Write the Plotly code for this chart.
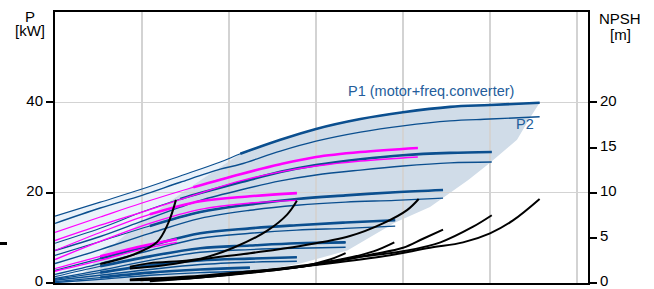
import plotly.graph_objects as go

# ---------------- data (x = flow, arbitrary units; P in kW; NPSH in m) ----------------
# Pump A (blue)
A_x  = [0, 5.2, 10, 14.4, 19.0, 21.3, 25.9, 30.0, 35.1, 40.0, 45.4, 50.0, 55.7]
A_p1 = [14.8, 17.9, 20.8, 23.7, 26.8, 28.6, 31.7, 34.1, 36.3, 37.8, 39.0, 39.4, 39.9]
A_p2 = [13.2, 16.6, 19.4, 22.3, 25.2, 26.3, 29.2, 31.4, 33.4, 34.8, 35.9, 36.3, 36.8]
A_thick = 21.3
# Pump B (blue)
B_x  = [0, 5.2, 10, 14.4, 16.7, 21.3, 25.9, 30.0, 35.1, 40.0, 45.4, 50.2]
B_p1 = [8.8, 12.1, 15.7, 18.6, 19.9, 22.3, 24.6, 26.1, 27.4, 28.3, 28.8, 29.0]
B_p2 = [7.2, 10.3, 13.7, 16.8, 18.3, 20.6, 22.6, 23.9, 25.0, 25.9, 26.6, 26.8]
B_thick = 14.4
# Pump C (magenta)
C_x  = [0, 5.2, 10, 15.9, 21.3, 25.9, 30.0, 35.1, 41.7]
C_p1 = [11.2, 14.6, 17.7, 21.2, 24.1, 26.3, 27.9, 29.0, 29.9]
C_p2 = [9.4, 12.8, 15.7, 19.4, 22.6, 24.6, 25.9, 27.0, 27.9]
C_thick = 15.9
# Pump D (blue)
D_x  = [0, 5.2, 10.9, 16.7, 22.4, 27.8, 33.4, 39.1, 44.6]
D_p1 = [6.1, 9.2, 12.6, 15.7, 17.4, 18.6, 19.4, 20.1, 20.6]
D_p2 = [4.3, 7.4, 11.0, 14.3, 16.1, 17.2, 17.9, 18.3, 18.8]
D_thick = 10.9
# Pump E (magenta)
E_x  = [0, 5.2, 10.9, 16.7, 22.4, 27.8]
E_p1 = [7.2, 11.2, 15.2, 18.1, 19.2, 19.9]
E_p2 = [5.2, 9.2, 13.2, 16.3, 17.7, 18.3]
E_thick = 10.9
# Pump F (blue)
F_x  = [0, 5.2, 10.9, 16.7, 22.4, 27.8, 33.4, 39.1]
F_p1 = [2.8, 5.4, 8.3, 11.0, 12.1, 12.8, 13.4, 13.9]
F_p2 = [1.9, 4.3, 7.2, 9.9, 11.0, 11.7, 12.1, 12.6]
F_thick = 5.2
# Pump G (blue)
G_x  = [0, 5.2, 10.9, 16.7, 22.4, 27.8, 33.4]
G_p1 = [1.4, 3.7, 5.9, 7.7, 8.3, 8.8, 9.0]
G_p2 = [1.0, 2.8, 5.0, 6.8, 7.4, 7.7, 7.9]
G_thick = 5.2
# Pump H (magenta)
H_x  = [0, 5.2, 9.8, 14.0]
H_p1 = [3.2, 5.9, 8.1, 9.7]
H_p2 = [2.6, 5.0, 7.4, 9.0]
H_thick = 5.2
# Pump I (blue)
I_x  = [0, 5.2, 10.9, 16.7, 22.4, 27.8]
I_p1 = [0.8, 2.3, 3.9, 5.0, 5.4, 5.7]
I_p2 = [0.6, 1.7, 3.0, 4.1, 4.6, 4.8]
I_thick = 5.2
# Pump J (blue)
J_x  = [0, 5.2, 10.9, 16.7, 22.4]
J_p1 = [0.3, 1.2, 2.3, 3.0, 3.4]
J_p2 = [0.1, 0.8, 1.7, 2.3, 2.6]
J_thick = 5.2

# NPSH curves (black, right axis)
N1_x = [5.2, 8.9, 11.7, 13.0, 13.9];            N1_v = [2.1, 3.1, 4.5, 6.6, 9.2]
N2_x = [8.6, 10.9, 16.7, 20.5, 24.4, 26.7, 27.8]; N2_v = [1.8, 2.2, 2.7, 3.9, 5.8, 7.6, 9.1]
N3_x = [8.6, 12.1, 16.7, 22.4, 28.2, 33.9, 37.7, 40.5, 41.8]; N3_v = [1.6, 1.9, 2.6, 3.3, 4.1, 5.2, 6.6, 8.1, 9.3]
N4_x = [8.6, 16.7, 22.4, 28.2, 31.6, 33.4];      N4_v = [0.4, 0.8, 1.3, 1.8, 2.6, 3.3]
N5_x = [8.6, 16.7, 25.9, 32.8, 36.6, 39.0];      N5_v = [0.3, 0.7, 1.6, 2.6, 3.5, 4.5]
N6_x = [9.8, 16.7, 25.9, 32.8, 36.6, 40.0, 42.3, 44.6]; N6_v = [0.3, 0.7, 1.5, 2.5, 3.2, 3.9, 4.9, 5.9]
N7_x = [10.9, 16.7, 28.2, 35.1, 40.5, 44.3, 48.0, 50.2]; N7_v = [0.3, 0.6, 1.8, 2.9, 3.6, 4.5, 6.2, 7.5]
N8_x = [10.9, 16.7, 28.2, 37.4, 43.1, 46.9, 50.0, 52.6, 55.7]; N8_v = [0.2, 0.6, 1.8, 2.9, 3.9, 4.5, 5.5, 6.9, 9.3]

# Operating-range area boundaries
DARK_RIGHT_X = [54.6, 53.1, 50.0, 47.5, 43.1, 39.1, 33.6, 28.2, 22.4, 16.7, 10.9]
DARK_RIGHT_P = [36.6, 31.7, 26.6, 22.8, 16.8, 13.4, 7.2, 4.3, 2.3, 1.0, 0.0]
DARK_LEFT_X = [2.3, 5.2, 9.8, 15.5, 21.3]
DARK_LEFT_P = [0.0, 6.1, 13.4, 21.2, 28.6]

P_TICKS = [0, 20, 40]
NPSH_TICKS = [0, 5, 10, 15, 20]

# ---------------- styles ----------------
BLUE = "#0b4f8f"
MAG = "#ff00ff"
BLACK = "#000000"
FONT = "Liberation Sans, Arial, sans-serif"

fig = go.Figure()

top_x_right = [x for x in A_x if x >= A_thick]
top_p_right = [p for x, p in zip(A_x, A_p1) if x >= A_thick]
top_x_left = [x for x in A_x if x <= A_thick]
top_p_left = [p for x, p in zip(A_x, A_p1) if x <= A_thick]

def path(xs, ys):
    s = "M %g,%g" % (xs[0], ys[0])
    for x, y in zip(xs[1:], ys[1:]):
        s += " L %g,%g" % (x, y)
    return s + " Z"

light_x = top_x_left + DARK_LEFT_X[::-1] + [0]
light_p = top_p_left + DARK_LEFT_P[::-1] + [0]
dark_x = top_x_right + DARK_RIGHT_X + DARK_LEFT_X
dark_p = top_p_right + DARK_RIGHT_P + DARK_LEFT_P

fig.add_shape(type="path", path=path(light_x, light_p), xref="x", yref="y",
              fillcolor="#eaf2fa", line=dict(width=0), layer="below")
fig.add_shape(type="path", path=path(dark_x, dark_p), xref="x", yref="y",
              fillcolor="#d0dce8", line=dict(width=0), layer="below")

pumps = [
    (A_x, A_p1, A_p2, A_thick, BLUE),
    (B_x, B_p1, B_p2, B_thick, BLUE),
    (D_x, D_p1, D_p2, D_thick, BLUE),
    (F_x, F_p1, F_p2, F_thick, BLUE),
    (G_x, G_p1, G_p2, G_thick, BLUE),
    (I_x, I_p1, I_p2, I_thick, BLUE),
    (J_x, J_p1, J_p2, J_thick, BLUE),
    (C_x, C_p1, C_p2, C_thick, MAG),
    (E_x, E_p1, E_p2, E_thick, MAG),
    (H_x, H_p1, H_p2, H_thick, MAG),
]
for xs, p1, p2, tk, col in pumps:
    fig.add_trace(go.Scatter(x=xs, y=p2, mode="lines",
                             line=dict(color=col, width=1.4, shape="spline"), hoverinfo="skip"))
    fig.add_trace(go.Scatter(x=xs, y=p1, mode="lines",
                             line=dict(color=col, width=1.1, shape="spline"), hoverinfo="skip"))
    tx = [x for x in xs if x >= tk]
    tp = [p for x, p in zip(xs, p1) if x >= tk]
    fig.add_trace(go.Scatter(x=tx, y=tp, mode="lines",
                             line=dict(color=col, width=2.6, shape="spline"), hoverinfo="skip"))

for xs, vs in [(N1_x, N1_v), (N2_x, N2_v), (N3_x, N3_v), (N4_x, N4_v),
               (N5_x, N5_v), (N6_x, N6_v), (N7_x, N7_v), (N8_x, N8_v)]:
    fig.add_trace(go.Scatter(x=xs, y=vs, yaxis="y2", mode="lines",
                             line=dict(color=BLACK, width=2, shape="spline"), hoverinfo="skip"))

GRID = "#d3d3d3"
fig.update_layout(
    width=654, height=289,
    margin=dict(l=55, r=66, t=12, b=6, autoexpand=False),
    paper_bgcolor="white", plot_bgcolor="white",
    showlegend=False, hovermode=False,
    font=dict(family=FONT, size=15, color="black"),
    xaxis=dict(range=[0, 61.26], tick0=0, dtick=10, showgrid=True, gridcolor=GRID, gridwidth=1.5,
               showline=True, linecolor="black", linewidth=2, mirror=True, automargin=False,
               showticklabels=False, ticks="", zeroline=False, fixedrange=True),
    yaxis=dict(range=[0, 60], tickvals=P_TICKS, showgrid=True, gridcolor=GRID, gridwidth=1.5,
               showline=True, linecolor="black", linewidth=2, ticks="outside", ticklen=7,
               tickwidth=2, tickcolor="black", zeroline=False, tickfont=dict(size=15),
               automargin=False, ticklabeloverflow="allow", ticklabelshift=-2),
    yaxis2=dict(range=[0, 30], tickvals=NPSH_TICKS, overlaying="y", side="right", showgrid=False,
                showline=True, linecolor="black", linewidth=2, ticks="outside", ticklen=7,
                tickwidth=2, tickcolor="black", zeroline=False, tickfont=dict(size=15),
                automargin=False, ticklabeloverflow="allow", ticklabelshift=-2),
)

def px_x(px):
    return (px - 55) / 533.0

def px_y(py):
    return (283 - py) / 271.0

ann = [
    ("P", 30, 16.5), ("[kW]", 30, 30.5), ("NPSH", 620, 18), ("[m]", 620, 35),
]
for t, x, y in ann:
    fig.add_annotation(text=t, x=px_x(x), y=px_y(y), xref="paper", yref="paper",
                       showarrow=False, xanchor="center", yanchor="middle",
                       font=dict(size=15, color="black"))

fig.add_annotation(text="P1 (motor+freq.converter)", x=px_x(346), y=px_y(91), xref="paper", yref="paper",
                   showarrow=False, xanchor="left", yanchor="middle",
                   font=dict(size=14.5, color="#245d9b"))
fig.add_annotation(text="P2", x=px_x(525), y=px_y(124), xref="paper", yref="paper",
                   showarrow=False, xanchor="center", yanchor="middle",
                   font=dict(size=14.5, color="#245d9b"))

fig.add_shape(type="line", xref="paper", yref="paper", x0=px_x(0), x1=px_x(7),
              y0=px_y(243.5), y1=px_y(243.5), line=dict(color="black", width=3))

fig.write_html("out.html", config={"displayModeBar": False, "staticPlot": True},
               post_script="document.body.style.margin='0px';document.body.style.overflow='hidden';")
